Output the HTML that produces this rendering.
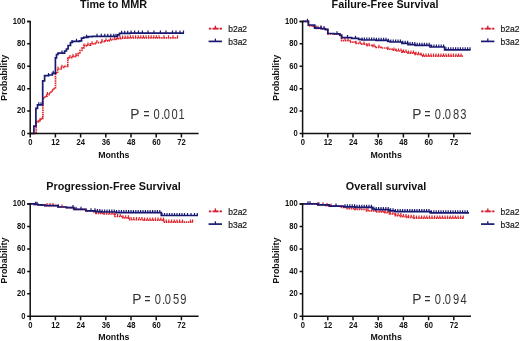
<!DOCTYPE html><html><head><meta charset="utf-8"><style>html,body{margin:0;padding:0;background:#fff;}svg{display:block;filter:blur(0.35px);}</style></head><body>
<svg width="520" height="341" viewBox="0 0 520 341" font-family='"Liberation Sans", sans-serif'>
<rect width="520" height="341" fill="#fff"/>
<g><path d="M30.2,133.5 L36.2,133.5 L36.2,121.8 L38.5,121.8 L38.5,120.6 L41.0,120.6 L41.0,118.4 L42.9,118.4 L42.9,98.0 L45.0,98.0 L45.0,96.2 L47.0,96.2 L47.0,94.6 L49.0,94.6 L49.0,93.0 L51.0,93.0 L51.0,91.0 L53.0,91.0 L53.0,88.6 L55.5,88.6 L55.5,72.9 L57.6,72.9 L57.6,69.0 L61.1,69.0 L61.1,67.3 L64.6,67.3 L64.6,66.4 L67.8,66.4 L67.8,58.4 L69.0,58.4 L69.0,57.6 L72.5,57.6 L72.5,56.7 L75.0,56.7 L75.0,55.7 L78.0,55.7 L78.0,53.5 L80.0,53.5 L80.0,50.5 L81.9,50.5 L81.9,48.2 L83.7,48.2 L83.7,46.0 L86.2,46.0 L86.2,45.1 L90.6,45.1 L90.6,43.8 L94.9,43.8 L94.9,42.6 L101.0,42.6 L101.0,41.7 L105.0,41.7 L105.0,40.8 L109.2,40.8 L109.2,40.0 L112.0,40.0 L112.0,39.4 L115.4,39.4 L115.4,38.8 L118.0,38.8 L118.0,38.6 L120.8,38.6 L120.8,38.2 L128.0,38.2 L128.0,37.9 L178.0,37.9 L178.0,37.9" fill="none" stroke="#e0222c" stroke-width="1.7" stroke-dasharray="1.5 0.7" stroke-linejoin="miter"/><path d="M40.0,120.6V118.0M47.5,94.6V92.0M58.0,69.0V66.4M62.0,67.3V64.7M70.0,57.6V55.0M73.0,56.7V54.1M76.0,55.7V53.1M84.0,46.0V43.4M88.0,45.1V42.5M92.0,43.8V41.2M97.0,42.6V40.0M102.0,41.7V39.1M106.0,40.8V38.2M110.5,40.0V37.4M114.7,39.4V36.8M117.3,38.8V36.2M120.0,38.6V36.0M122.6,38.2V35.6M125.2,38.2V35.6M127.8,38.2V35.6M130.4,37.9V35.3M133.0,37.9V35.3M135.6,37.9V35.3M138.2,37.9V35.3M140.8,37.9V35.3M143.4,37.9V35.3M146.0,37.9V35.3M148.6,37.9V35.3M151.2,37.9V35.3M153.8,37.9V35.3M156.4,37.9V35.3M159.0,37.9V35.3M164.0,37.9V35.3M168.5,37.9V35.3M173.0,37.9V35.3M177.5,37.9V35.3" stroke="#e0222c" stroke-width="1.2" fill="none"/><path d="M30.2,133.5 L33.9,133.5 L33.9,126.2 L35.9,126.2 L35.9,108.3 L37.5,108.3 L37.5,104.8 L42.7,104.8 L42.7,80.8 L44.6,80.8 L44.6,75.6 L48.8,75.6 L48.8,75.0 L52.3,75.0 L52.3,73.4 L55.4,73.4 L55.4,57.9 L56.5,57.9 L56.5,54.5 L58.0,54.5 L58.0,53.2 L64.6,53.2 L64.6,51.0 L66.4,51.0 L66.4,49.0 L68.1,49.0 L68.1,45.5 L70.5,45.5 L70.5,42.5 L72.5,42.5 L72.5,41.4 L79.5,41.4 L79.5,40.8 L81.5,40.8 L81.5,38.2 L83.7,38.2 L83.7,37.4 L88.0,37.4 L88.0,36.6 L92.3,36.6 L92.3,36.3 L117.5,36.3 L117.5,34.9 L119.5,34.9 L119.5,33.4 L130.0,33.4 L130.0,33.1 L184.0,33.1 L184.0,33.1" fill="none" stroke="#191972" stroke-width="1.7" stroke-linejoin="miter"/><path d="M38.8,104.8V102.2M41.0,104.8V102.2M48.5,75.6V73.0M53.2,73.4V70.8M62.0,53.2V50.6M72.0,42.5V39.9M76.5,41.4V38.8M86.5,37.4V34.8M97.0,36.3V33.7M101.3,36.3V33.7M104.8,36.3V33.7M107.8,36.3V33.7M110.8,36.3V33.7M113.8,36.3V33.7M116.0,36.3V33.7M121.6,33.4V30.8M124.7,33.4V30.8M127.7,33.4V30.8M131.1,33.1V30.5M134.6,33.1V30.5M138.5,33.1V30.5M142.4,33.1V30.5M148.0,33.1V30.5M154.0,33.1V30.5M160.4,33.1V30.5M166.0,33.1V30.5M172.5,33.1V30.5M176.0,33.1V30.5M180.0,33.1V30.5M183.5,33.1V30.5" stroke="#191972" stroke-width="1.2" fill="none"/><path d="M27.2,21.4H30.2V133.5H198.6" fill="none" stroke="#111" stroke-width="1.5"/><path d="M27.2,111.1H30.2M27.2,88.7H30.2M27.2,66.2H30.2M27.2,43.8H30.2M27.2,21.4H30.2M27.2,133.5H30.2M30.2,133.5V137.5M55.4,133.5V137.5M80.6,133.5V137.5M105.8,133.5V137.5M131.0,133.5V137.5M156.2,133.5V137.5M181.4,133.5V137.5" stroke="#111" stroke-width="1.5" fill="none"/><text transform="translate(25.40,135.80) scale(0.93,1.1)" font-size="8.2" font-weight="bold" text-anchor="end" fill="#111">0</text><text transform="translate(25.40,113.38) scale(0.93,1.1)" font-size="8.2" font-weight="bold" text-anchor="end" fill="#111">20</text><text transform="translate(25.40,90.96) scale(0.93,1.1)" font-size="8.2" font-weight="bold" text-anchor="end" fill="#111">40</text><text transform="translate(25.40,68.54) scale(0.93,1.1)" font-size="8.2" font-weight="bold" text-anchor="end" fill="#111">60</text><text transform="translate(25.40,46.12) scale(0.93,1.1)" font-size="8.2" font-weight="bold" text-anchor="end" fill="#111">80</text><text transform="translate(25.40,23.70) scale(0.93,1.1)" font-size="8.2" font-weight="bold" text-anchor="end" fill="#111">100</text><text transform="translate(30.40,145.30) scale(0.93,1.05)" font-size="8.2" font-weight="bold" text-anchor="middle" fill="#111">0</text><text transform="translate(55.60,145.30) scale(0.93,1.05)" font-size="8.2" font-weight="bold" text-anchor="middle" fill="#111">12</text><text transform="translate(80.80,145.30) scale(0.93,1.05)" font-size="8.2" font-weight="bold" text-anchor="middle" fill="#111">24</text><text transform="translate(106.00,145.30) scale(0.93,1.05)" font-size="8.2" font-weight="bold" text-anchor="middle" fill="#111">36</text><text transform="translate(131.20,145.30) scale(0.93,1.05)" font-size="8.2" font-weight="bold" text-anchor="middle" fill="#111">48</text><text transform="translate(156.40,145.30) scale(0.93,1.05)" font-size="8.2" font-weight="bold" text-anchor="middle" fill="#111">60</text><text transform="translate(181.60,145.30) scale(0.93,1.05)" font-size="8.2" font-weight="bold" text-anchor="middle" fill="#111">72</text><text x="113.8" y="157.6" font-size="8.8" font-weight="bold" text-anchor="middle" fill="#111">Months</text><text transform="translate(6.7,77.8) rotate(-90)" font-size="8.9" font-weight="bold" text-anchor="middle" fill="#111">Probability</text><text x="113.6" y="7.7" font-size="10.8" font-weight="bold" text-anchor="middle" fill="#111">Time to MMR</text><path d="M208.9,28.7H221.9" stroke="#f2a0a8" stroke-width="1.6"/><path d="M208.9,28.7H210.8M212.9,28.7H218.3M219.9,28.7H221.9" stroke="#d01e30" stroke-width="1.8"/><path d="M215.4,28.7V25.7" stroke="#d01e30" stroke-width="1.4"/><path d="M208.6,41.4H222.0" stroke="#191972" stroke-width="1.7"/><path d="M215.4,41.4V38.6" stroke="#191972" stroke-width="1.3"/><text x="228.2" y="31.7" font-size="8.5" fill="#1a1a1a" stroke="#1a1a1a" stroke-width="0.2">b2a2</text><text x="228.2" y="44.7" font-size="8.5" fill="#1a1a1a" stroke="#1a1a1a" stroke-width="0.2">b3a2</text><text transform="translate(130.37,118.60) scale(1.08,1.08)" font-size="12.8" fill="#333">P</text><text transform="translate(143.50,118.60) scale(0.8,1.08)" font-size="12.8" fill="#333">=</text><text transform="translate(153.56,118.60) scale(0.87,1.08)" font-size="12.8" fill="#333">0</text><text transform="translate(160.91,118.60) scale(0.93,1.08)" font-size="12.8" fill="#333">.</text><text transform="translate(163.66,118.60) scale(0.87,1.08)" font-size="12.8" fill="#333">0</text><text transform="translate(171.56,118.60) scale(0.87,1.08)" font-size="12.8" fill="#333">0</text><text transform="translate(178.45,118.60) scale(0.87,1.08)" font-size="12.8" fill="#333">1</text></g>
<g><path d="M302.6,21.4 L308.4,21.4 L308.4,25.9 L313.5,25.9 L313.5,26.4 L314.7,26.4 L314.7,28.4 L321.2,28.4 L321.2,28.8 L325.0,28.8 L325.0,29.6 L327.8,29.6 L327.8,33.8 L334.3,33.8 L334.3,34.0 L339.8,34.0 L339.8,35.3 L341.6,35.3 L341.6,40.6 L350.0,40.6 L350.0,42.2 L355.0,42.2 L355.0,43.4 L362.0,43.4 L362.0,44.2 L366.7,44.2 L366.7,45.4 L372.0,45.4 L372.0,46.4 L376.1,46.4 L376.1,47.4 L381.0,47.4 L381.0,48.0 L386.7,48.0 L386.7,49.2 L392.0,49.2 L392.0,50.2 L396.0,50.2 L396.0,51.0 L401.9,51.0 L401.9,52.2 L408.0,52.2 L408.0,53.2 L415.0,53.2 L415.0,54.4 L420.6,54.4 L420.6,55.0 L422.9,55.0 L422.9,56.2 L463.5,56.2 L463.5,56.2" fill="none" stroke="#e0222c" stroke-width="1.7" stroke-dasharray="1.5 0.7" stroke-linejoin="miter"/><path d="M318.0,28.4V25.8M321.0,28.4V25.8M345.0,40.6V38.0M348.0,40.6V38.0M356.0,43.4V40.8M360.0,43.4V40.8M364.0,44.2V41.6M369.0,45.4V42.8M374.0,46.4V43.8M379.0,47.4V44.8M388.0,49.2V46.6M394.0,50.2V47.6M396.0,51.0V48.4M398.5,51.0V48.4M401.0,51.0V48.4M403.5,52.2V49.6M406.0,52.2V49.6M408.5,53.2V50.6M411.0,53.2V50.6M413.5,53.2V50.6M416.0,54.4V51.8M418.5,54.4V51.8M421.0,55.0V52.4M423.5,56.2V53.6M426.0,56.2V53.6M428.5,56.2V53.6M431.0,56.2V53.6M433.5,56.2V53.6M436.0,56.2V53.6M438.5,56.2V53.6M441.0,56.2V53.6M443.5,56.2V53.6M446.0,56.2V53.6M448.5,56.2V53.6M451.0,56.2V53.6M453.5,56.2V53.6M456.0,56.2V53.6M458.5,56.2V53.6M461.0,56.2V53.6" stroke="#e0222c" stroke-width="1.2" fill="none"/><path d="M302.6,21.4 L308.4,21.4 L308.4,25.0 L314.7,25.0 L314.7,28.2 L321.2,28.2 L321.2,28.6 L325.0,28.6 L325.0,29.4 L327.8,29.4 L327.8,33.5 L334.3,33.5 L334.3,33.8 L339.8,33.8 L339.8,35.0 L341.6,35.0 L341.6,37.6 L351.6,37.6 L351.6,38.4 L358.6,38.4 L358.6,39.4 L362.0,39.4 L362.0,40.0 L376.0,40.0 L376.0,40.4 L387.8,40.4 L387.8,41.3 L390.2,41.3 L390.2,42.0 L401.9,42.0 L401.9,43.3 L408.0,43.3 L408.0,44.6 L415.0,44.6 L415.0,45.4 L430.0,45.4 L430.0,47.0 L444.6,47.0 L444.6,49.9 L470.5,49.9 L470.5,49.9" fill="none" stroke="#191972" stroke-width="1.7" stroke-linejoin="miter"/><path d="M307.5,21.4V18.8M316.0,28.2V25.6M321.0,28.2V25.6M324.0,28.6V26.0M337.0,33.8V31.2M347.5,37.6V35.0M355.5,38.4V35.8M362.0,40.0V37.4M364.4,40.0V37.4M366.8,40.0V37.4M369.2,40.0V37.4M371.6,40.0V37.4M374.0,40.0V37.4M376.4,40.4V37.8M378.8,40.4V37.8M381.2,40.4V37.8M383.6,40.4V37.8M386.0,40.4V37.8M388.4,41.3V38.7M390.8,42.0V39.4M393.2,42.0V39.4M395.6,42.0V39.4M398.0,42.0V39.4M400.4,42.0V39.4M402.8,43.3V40.7M405.2,43.3V40.7M407.6,43.3V40.7M410.0,44.6V42.0M412.4,44.6V42.0M414.8,44.6V42.0M417.2,45.4V42.8M419.6,45.4V42.8M422.0,45.4V42.8M424.4,45.4V42.8M426.8,45.4V42.8M429.2,45.4V42.8M431.6,47.0V44.4M434.0,47.0V44.4M436.4,47.0V44.4M438.8,47.0V44.4M441.2,47.0V44.4M443.6,47.0V44.4M446.0,49.9V47.3M448.4,49.9V47.3M450.8,49.9V47.3M453.2,49.9V47.3M455.6,49.9V47.3M458.0,49.9V47.3M460.4,49.9V47.3M462.8,49.9V47.3M465.2,49.9V47.3M467.6,49.9V47.3M470.0,49.9V47.3" stroke="#191972" stroke-width="1.2" fill="none"/><path d="M299.6,21.4H302.6V133.5H471.0" fill="none" stroke="#111" stroke-width="1.5"/><path d="M299.6,111.1H302.6M299.6,88.7H302.6M299.6,66.2H302.6M299.6,43.8H302.6M299.6,21.4H302.6M299.6,133.5H302.6M302.6,133.5V137.5M327.8,133.5V137.5M353.0,133.5V137.5M378.2,133.5V137.5M403.4,133.5V137.5M428.6,133.5V137.5M453.8,133.5V137.5" stroke="#111" stroke-width="1.5" fill="none"/><text transform="translate(297.80,135.80) scale(0.93,1.1)" font-size="8.2" font-weight="bold" text-anchor="end" fill="#111">0</text><text transform="translate(297.80,113.38) scale(0.93,1.1)" font-size="8.2" font-weight="bold" text-anchor="end" fill="#111">20</text><text transform="translate(297.80,90.96) scale(0.93,1.1)" font-size="8.2" font-weight="bold" text-anchor="end" fill="#111">40</text><text transform="translate(297.80,68.54) scale(0.93,1.1)" font-size="8.2" font-weight="bold" text-anchor="end" fill="#111">60</text><text transform="translate(297.80,46.12) scale(0.93,1.1)" font-size="8.2" font-weight="bold" text-anchor="end" fill="#111">80</text><text transform="translate(297.80,23.70) scale(0.93,1.1)" font-size="8.2" font-weight="bold" text-anchor="end" fill="#111">100</text><text transform="translate(302.80,145.30) scale(0.93,1.05)" font-size="8.2" font-weight="bold" text-anchor="middle" fill="#111">0</text><text transform="translate(328.00,145.30) scale(0.93,1.05)" font-size="8.2" font-weight="bold" text-anchor="middle" fill="#111">12</text><text transform="translate(353.20,145.30) scale(0.93,1.05)" font-size="8.2" font-weight="bold" text-anchor="middle" fill="#111">24</text><text transform="translate(378.40,145.30) scale(0.93,1.05)" font-size="8.2" font-weight="bold" text-anchor="middle" fill="#111">36</text><text transform="translate(403.60,145.30) scale(0.93,1.05)" font-size="8.2" font-weight="bold" text-anchor="middle" fill="#111">48</text><text transform="translate(428.80,145.30) scale(0.93,1.05)" font-size="8.2" font-weight="bold" text-anchor="middle" fill="#111">60</text><text transform="translate(454.00,145.30) scale(0.93,1.05)" font-size="8.2" font-weight="bold" text-anchor="middle" fill="#111">72</text><text x="386.2" y="157.6" font-size="8.8" font-weight="bold" text-anchor="middle" fill="#111">Months</text><text transform="translate(279.1,77.8) rotate(-90)" font-size="8.9" font-weight="bold" text-anchor="middle" fill="#111">Probability</text><text x="385.0" y="7.7" font-size="10.8" font-weight="bold" text-anchor="middle" fill="#111">Failure-Free Survival</text><path d="M481.3,28.7H494.3" stroke="#f2a0a8" stroke-width="1.6"/><path d="M481.3,28.7H483.2M485.3,28.7H490.7M492.3,28.7H494.3" stroke="#d01e30" stroke-width="1.8"/><path d="M487.8,28.7V25.7" stroke="#d01e30" stroke-width="1.4"/><path d="M481.0,41.4H494.4" stroke="#191972" stroke-width="1.7"/><path d="M487.8,41.4V38.6" stroke="#191972" stroke-width="1.3"/><text x="500.6" y="31.7" font-size="8.5" fill="#1a1a1a" stroke="#1a1a1a" stroke-width="0.2">b2a2</text><text x="500.6" y="44.7" font-size="8.5" fill="#1a1a1a" stroke="#1a1a1a" stroke-width="0.2">b3a2</text><text transform="translate(412.17,118.70) scale(1.08,1.08)" font-size="12.8" fill="#333">P</text><text transform="translate(424.60,118.70) scale(0.8,1.08)" font-size="12.8" fill="#333">=</text><text transform="translate(434.76,118.70) scale(0.87,1.08)" font-size="12.8" fill="#333">0</text><text transform="translate(441.91,118.70) scale(0.93,1.08)" font-size="12.8" fill="#333">.</text><text transform="translate(444.87,118.70) scale(0.87,1.08)" font-size="12.8" fill="#333">0</text><text transform="translate(452.92,118.70) scale(0.87,1.08)" font-size="12.8" fill="#333">8</text><text transform="translate(460.18,118.70) scale(0.87,1.08)" font-size="12.8" fill="#333">3</text></g>
<g><path d="M30.2,203.9 L34.5,203.9 L34.5,204.3 L38.0,204.3 L38.0,204.8 L41.5,204.8 L41.5,205.2 L45.0,205.2 L45.0,205.6 L57.8,205.6 L57.8,207.0 L66.5,207.0 L66.5,207.6 L73.6,207.6 L73.6,208.6 L74.2,208.6 L74.2,209.4 L86.0,209.4 L86.0,210.8 L93.8,210.8 L93.8,212.0 L96.0,212.0 L96.0,213.4 L104.0,213.4 L104.0,214.0 L113.8,214.0 L113.8,214.8 L115.0,214.8 L115.0,216.5 L123.0,216.5 L123.0,217.8 L128.8,217.8 L128.8,219.6 L144.0,219.6 L144.0,220.2 L163.6,220.2 L163.6,222.2 L193.0,222.2 L193.0,222.2" fill="none" stroke="#e0222c" stroke-width="1.7" stroke-dasharray="1.5 0.7" stroke-linejoin="miter"/><path d="M47.0,205.6V203.0M50.0,205.6V203.0M53.0,205.6V203.0M62.0,207.0V204.4M96.0,213.4V210.8M98.7,213.4V210.8M101.4,213.4V210.8M104.1,214.0V211.4M106.8,214.0V211.4M109.5,214.0V211.4M112.2,214.0V211.4M114.9,214.8V212.2M117.6,216.5V213.9M120.3,216.5V213.9M123.0,217.8V215.2M125.7,217.8V215.2M128.4,217.8V215.2M131.1,219.6V217.0M133.8,219.6V217.0M136.5,219.6V217.0M139.2,219.6V217.0M141.9,219.6V217.0M144.6,220.2V217.6M147.3,220.2V217.6M150.0,220.2V217.6M152.7,220.2V217.6M155.4,220.2V217.6M158.1,220.2V217.6M160.8,220.2V217.6M163.5,220.2V217.6M166.2,222.2V219.6M168.9,222.2V219.6M171.6,222.2V219.6M174.3,222.2V219.6M177.0,222.2V219.6M179.7,222.2V219.6M182.5,222.2V219.6M190.5,222.2V219.6M192.6,222.2V219.6" stroke="#e0222c" stroke-width="1.2" fill="none"/><path d="M30.2,203.9 L34.5,203.9 L34.5,204.3 L38.0,204.3 L38.0,204.8 L41.5,204.8 L41.5,205.2 L45.0,205.2 L45.0,205.6 L57.8,205.6 L57.8,207.0 L66.5,207.0 L66.5,207.6 L73.6,207.6 L73.6,208.6 L74.2,208.6 L74.2,209.4 L86.0,209.4 L86.0,210.8 L95.4,210.8 L95.4,211.6 L100.0,211.6 L100.0,212.0 L116.0,212.0 L116.0,212.6 L161.3,212.6 L161.3,215.5 L198.0,215.5 L198.0,215.5" fill="none" stroke="#191972" stroke-width="1.7" stroke-linejoin="miter"/><path d="M35.5,204.3V201.7M37.0,204.3V201.7M58.5,207.0V204.4M73.0,207.6V205.0M76.0,209.4V206.8M81.0,209.4V206.8M91.0,210.8V208.2M95.0,210.8V208.2M97.4,211.6V209.0M99.8,211.6V209.0M102.2,212.0V209.4M104.6,212.0V209.4M107.0,212.0V209.4M109.4,212.0V209.4M111.8,212.0V209.4M114.2,212.0V209.4M116.6,212.6V210.0M119.0,212.6V210.0M121.4,212.6V210.0M123.8,212.6V210.0M126.2,212.6V210.0M128.6,212.6V210.0M131.0,212.6V210.0M133.4,212.6V210.0M135.8,212.6V210.0M138.2,212.6V210.0M140.6,212.6V210.0M143.0,212.6V210.0M145.4,212.6V210.0M147.8,212.6V210.0M150.2,212.6V210.0M152.6,212.6V210.0M155.0,212.6V210.0M157.4,212.6V210.0M159.8,212.6V210.0M162.0,215.5V212.9M164.5,215.5V212.9M167.0,215.5V212.9M169.5,215.5V212.9M172.0,215.5V212.9M174.5,215.5V212.9M177.0,215.5V212.9M179.5,215.5V212.9M182.0,215.5V212.9M184.5,215.5V212.9M187.5,215.5V212.9M191.0,215.5V212.9M194.5,215.5V212.9M197.3,215.5V212.9" stroke="#191972" stroke-width="1.2" fill="none"/><path d="M27.2,204.1H30.2V316.2H198.6" fill="none" stroke="#111" stroke-width="1.5"/><path d="M27.2,293.8H30.2M27.2,271.4H30.2M27.2,248.9H30.2M27.2,226.5H30.2M27.2,204.1H30.2M27.2,316.2H30.2M30.2,316.2V320.2M55.4,316.2V320.2M80.6,316.2V320.2M105.8,316.2V320.2M131.0,316.2V320.2M156.2,316.2V320.2M181.4,316.2V320.2" stroke="#111" stroke-width="1.5" fill="none"/><text transform="translate(25.40,318.50) scale(0.93,1.1)" font-size="8.2" font-weight="bold" text-anchor="end" fill="#111">0</text><text transform="translate(25.40,296.08) scale(0.93,1.1)" font-size="8.2" font-weight="bold" text-anchor="end" fill="#111">20</text><text transform="translate(25.40,273.66) scale(0.93,1.1)" font-size="8.2" font-weight="bold" text-anchor="end" fill="#111">40</text><text transform="translate(25.40,251.24) scale(0.93,1.1)" font-size="8.2" font-weight="bold" text-anchor="end" fill="#111">60</text><text transform="translate(25.40,228.82) scale(0.93,1.1)" font-size="8.2" font-weight="bold" text-anchor="end" fill="#111">80</text><text transform="translate(25.40,206.40) scale(0.93,1.1)" font-size="8.2" font-weight="bold" text-anchor="end" fill="#111">100</text><text transform="translate(30.40,327.60) scale(0.93,1.05)" font-size="8.2" font-weight="bold" text-anchor="middle" fill="#111">0</text><text transform="translate(55.60,327.60) scale(0.93,1.05)" font-size="8.2" font-weight="bold" text-anchor="middle" fill="#111">12</text><text transform="translate(80.80,327.60) scale(0.93,1.05)" font-size="8.2" font-weight="bold" text-anchor="middle" fill="#111">24</text><text transform="translate(106.00,327.60) scale(0.93,1.05)" font-size="8.2" font-weight="bold" text-anchor="middle" fill="#111">36</text><text transform="translate(131.20,327.60) scale(0.93,1.05)" font-size="8.2" font-weight="bold" text-anchor="middle" fill="#111">48</text><text transform="translate(156.40,327.60) scale(0.93,1.05)" font-size="8.2" font-weight="bold" text-anchor="middle" fill="#111">60</text><text transform="translate(181.60,327.60) scale(0.93,1.05)" font-size="8.2" font-weight="bold" text-anchor="middle" fill="#111">72</text><text x="113.8" y="340.3" font-size="8.8" font-weight="bold" text-anchor="middle" fill="#111">Months</text><text transform="translate(6.7,260.5) rotate(-90)" font-size="8.9" font-weight="bold" text-anchor="middle" fill="#111">Probability</text><text x="113.5" y="190.2" font-size="10.8" font-weight="bold" text-anchor="middle" fill="#111">Progression-Free Survival</text><path d="M208.9,211.4H221.9" stroke="#f2a0a8" stroke-width="1.6"/><path d="M208.9,211.4H210.8M212.9,211.4H218.3M219.9,211.4H221.9" stroke="#d01e30" stroke-width="1.8"/><path d="M215.4,211.4V208.4" stroke="#d01e30" stroke-width="1.4"/><path d="M208.6,224.1H222.0" stroke="#191972" stroke-width="1.7"/><path d="M215.4,224.1V221.3" stroke="#191972" stroke-width="1.3"/><text x="228.2" y="214.7" font-size="8.5" fill="#1a1a1a" stroke="#1a1a1a" stroke-width="0.2">b2a2</text><text x="228.2" y="227.6" font-size="8.5" fill="#1a1a1a" stroke="#1a1a1a" stroke-width="0.2">b3a2</text><text transform="translate(132.17,304.40) scale(1.08,1.08)" font-size="12.8" fill="#333">P</text><text transform="translate(144.60,304.40) scale(0.8,1.08)" font-size="12.8" fill="#333">=</text><text transform="translate(154.77,304.40) scale(0.87,1.08)" font-size="12.8" fill="#333">0</text><text transform="translate(161.91,304.40) scale(0.93,1.08)" font-size="12.8" fill="#333">.</text><text transform="translate(164.87,304.40) scale(0.87,1.08)" font-size="12.8" fill="#333">0</text><text transform="translate(172.95,304.40) scale(0.87,1.08)" font-size="12.8" fill="#333">5</text><text transform="translate(180.18,304.40) scale(0.87,1.08)" font-size="12.8" fill="#333">9</text></g>
<g><path d="M302.6,203.9 L317.8,203.9 L317.8,204.8 L326.0,204.8 L326.0,205.6 L329.4,205.6 L329.4,206.2 L340.4,206.2 L340.4,207.5 L346.1,207.5 L346.1,208.6 L355.0,208.6 L355.0,209.3 L366.5,209.3 L366.5,210.8 L376.0,210.8 L376.0,211.8 L383.8,211.8 L383.8,212.7 L389.6,212.7 L389.6,214.0 L395.4,214.0 L395.4,215.6 L401.0,215.6 L401.0,216.6 L406.9,216.6 L406.9,217.4 L414.0,217.4 L414.0,218.2 L463.8,218.2 L463.8,218.2" fill="none" stroke="#e0222c" stroke-width="1.7" stroke-dasharray="1.5 0.7" stroke-linejoin="miter"/><path d="M319.0,204.8V202.2M323.0,204.8V202.2M327.0,205.6V203.0M331.0,206.2V203.6M349.0,208.6V206.0M352.0,208.6V206.0M356.0,209.3V206.7M360.0,209.3V206.7M368.0,210.8V208.2M372.0,210.8V208.2M380.0,211.8V209.2M382.6,211.8V209.2M385.2,212.7V210.1M387.8,212.7V210.1M390.4,214.0V211.4M393.0,214.0V211.4M395.6,215.6V213.0M398.2,215.6V213.0M400.8,215.6V213.0M403.4,216.6V214.0M406.0,216.6V214.0M408.6,217.4V214.8M411.2,217.4V214.8M413.8,217.4V214.8M416.4,218.2V215.6M419.0,218.2V215.6M421.6,218.2V215.6M424.2,218.2V215.6M426.8,218.2V215.6M429.4,218.2V215.6M432.0,218.2V215.6M434.6,218.2V215.6M437.2,218.2V215.6M439.8,218.2V215.6M442.4,218.2V215.6M445.0,218.2V215.6M447.6,218.2V215.6M450.2,218.2V215.6M452.8,218.2V215.6M455.4,218.2V215.6M458.0,218.2V215.6M460.6,218.2V215.6M463.2,218.2V215.6" stroke="#e0222c" stroke-width="1.2" fill="none"/><path d="M302.6,203.9 L317.8,203.9 L317.8,204.8 L329.4,204.8 L329.4,206.1 L343.8,206.1 L343.8,206.8 L355.0,206.8 L355.0,207.4 L372.3,207.4 L372.3,209.0 L374.6,209.0 L374.6,209.7 L389.0,209.7 L389.0,210.8 L395.0,210.8 L395.0,211.6 L430.2,211.6 L430.2,212.9 L469.0,212.9 L469.0,212.9" fill="none" stroke="#191972" stroke-width="1.7" stroke-linejoin="miter"/><path d="M308.0,203.9V201.3M310.0,203.9V201.3M318.0,204.8V202.2M336.0,206.1V203.5M345.0,206.8V204.2M347.4,206.8V204.2M349.8,206.8V204.2M352.2,206.8V204.2M354.6,206.8V204.2M357.0,207.4V204.8M359.4,207.4V204.8M361.8,207.4V204.8M364.2,207.4V204.8M366.6,207.4V204.8M369.0,207.4V204.8M371.4,207.4V204.8M373.8,209.0V206.4M376.2,209.7V207.1M378.6,209.7V207.1M381.0,209.7V207.1M383.4,209.7V207.1M385.8,209.7V207.1M388.2,209.7V207.1M390.6,210.8V208.2M393.0,210.8V208.2M395.4,211.6V209.0M397.8,211.6V209.0M400.2,211.6V209.0M402.6,211.6V209.0M405.0,211.6V209.0M407.4,211.6V209.0M409.8,211.6V209.0M412.2,211.6V209.0M414.6,211.6V209.0M417.0,211.6V209.0M419.4,211.6V209.0M421.8,211.6V209.0M424.2,211.6V209.0M426.6,211.6V209.0M429.0,211.6V209.0M431.4,212.9V210.3M433.8,212.9V210.3M436.2,212.9V210.3M438.6,212.9V210.3M441.0,212.9V210.3M443.4,212.9V210.3M445.8,212.9V210.3M448.2,212.9V210.3M450.6,212.9V210.3M453.0,212.9V210.3M455.4,212.9V210.3M457.8,212.9V210.3M460.2,212.9V210.3M462.6,212.9V210.3M465.0,212.9V210.3M467.4,212.9V210.3" stroke="#191972" stroke-width="1.2" fill="none"/><path d="M299.6,204.1H302.6V316.2H471.0" fill="none" stroke="#111" stroke-width="1.5"/><path d="M299.6,293.8H302.6M299.6,271.4H302.6M299.6,248.9H302.6M299.6,226.5H302.6M299.6,204.1H302.6M299.6,316.2H302.6M302.6,316.2V320.2M327.8,316.2V320.2M353.0,316.2V320.2M378.2,316.2V320.2M403.4,316.2V320.2M428.6,316.2V320.2M453.8,316.2V320.2" stroke="#111" stroke-width="1.5" fill="none"/><text transform="translate(297.80,318.50) scale(0.93,1.1)" font-size="8.2" font-weight="bold" text-anchor="end" fill="#111">0</text><text transform="translate(297.80,296.08) scale(0.93,1.1)" font-size="8.2" font-weight="bold" text-anchor="end" fill="#111">20</text><text transform="translate(297.80,273.66) scale(0.93,1.1)" font-size="8.2" font-weight="bold" text-anchor="end" fill="#111">40</text><text transform="translate(297.80,251.24) scale(0.93,1.1)" font-size="8.2" font-weight="bold" text-anchor="end" fill="#111">60</text><text transform="translate(297.80,228.82) scale(0.93,1.1)" font-size="8.2" font-weight="bold" text-anchor="end" fill="#111">80</text><text transform="translate(297.80,206.40) scale(0.93,1.1)" font-size="8.2" font-weight="bold" text-anchor="end" fill="#111">100</text><text transform="translate(302.80,327.60) scale(0.93,1.05)" font-size="8.2" font-weight="bold" text-anchor="middle" fill="#111">0</text><text transform="translate(328.00,327.60) scale(0.93,1.05)" font-size="8.2" font-weight="bold" text-anchor="middle" fill="#111">12</text><text transform="translate(353.20,327.60) scale(0.93,1.05)" font-size="8.2" font-weight="bold" text-anchor="middle" fill="#111">24</text><text transform="translate(378.40,327.60) scale(0.93,1.05)" font-size="8.2" font-weight="bold" text-anchor="middle" fill="#111">36</text><text transform="translate(403.60,327.60) scale(0.93,1.05)" font-size="8.2" font-weight="bold" text-anchor="middle" fill="#111">48</text><text transform="translate(428.80,327.60) scale(0.93,1.05)" font-size="8.2" font-weight="bold" text-anchor="middle" fill="#111">60</text><text transform="translate(454.00,327.60) scale(0.93,1.05)" font-size="8.2" font-weight="bold" text-anchor="middle" fill="#111">72</text><text x="386.2" y="340.3" font-size="8.8" font-weight="bold" text-anchor="middle" fill="#111">Months</text><text transform="translate(279.1,260.5) rotate(-90)" font-size="8.9" font-weight="bold" text-anchor="middle" fill="#111">Probability</text><text x="386.0" y="190.2" font-size="10.8" font-weight="bold" text-anchor="middle" fill="#111">Overall survival</text><path d="M481.3,211.4H494.3" stroke="#f2a0a8" stroke-width="1.6"/><path d="M481.3,211.4H483.2M485.3,211.4H490.7M492.3,211.4H494.3" stroke="#d01e30" stroke-width="1.8"/><path d="M487.8,211.4V208.4" stroke="#d01e30" stroke-width="1.4"/><path d="M481.0,224.1H494.4" stroke="#191972" stroke-width="1.7"/><path d="M487.8,224.1V221.3" stroke="#191972" stroke-width="1.3"/><text x="500.6" y="214.7" font-size="8.5" fill="#1a1a1a" stroke="#1a1a1a" stroke-width="0.2">b2a2</text><text x="500.6" y="227.6" font-size="8.5" fill="#1a1a1a" stroke="#1a1a1a" stroke-width="0.2">b3a2</text><text transform="translate(412.17,304.30) scale(1.08,1.08)" font-size="12.8" fill="#333">P</text><text transform="translate(424.60,304.30) scale(0.8,1.08)" font-size="12.8" fill="#333">=</text><text transform="translate(434.76,304.30) scale(0.87,1.08)" font-size="12.8" fill="#333">0</text><text transform="translate(441.91,304.30) scale(0.93,1.08)" font-size="12.8" fill="#333">.</text><text transform="translate(444.87,304.30) scale(0.87,1.08)" font-size="12.8" fill="#333">0</text><text transform="translate(452.88,304.30) scale(0.87,1.08)" font-size="12.8" fill="#333">9</text><text transform="translate(460.44,304.30) scale(0.87,1.08)" font-size="12.8" fill="#333">4</text></g>
</svg></body></html>
